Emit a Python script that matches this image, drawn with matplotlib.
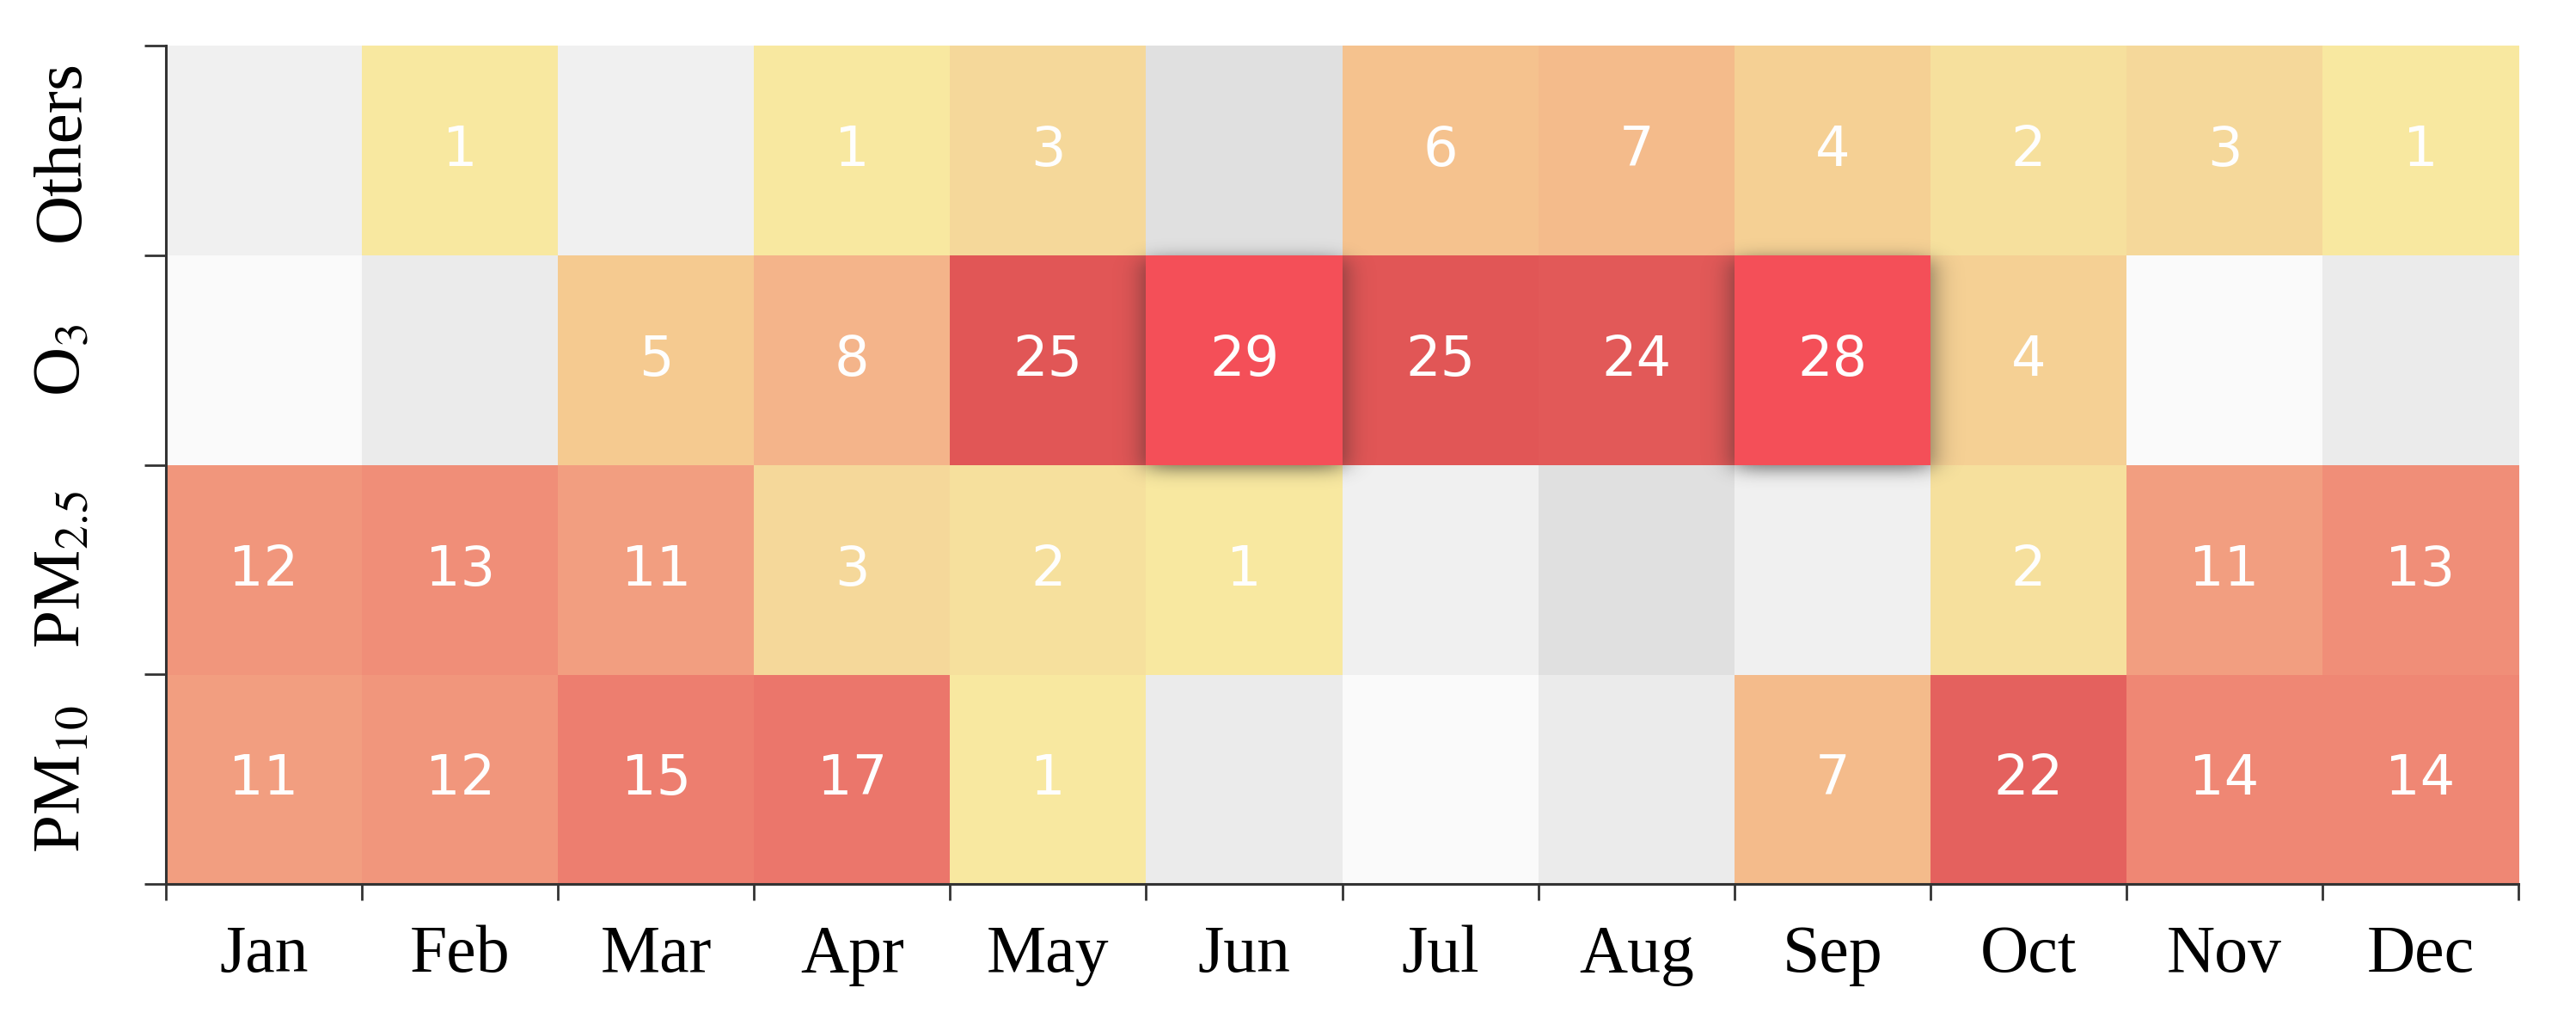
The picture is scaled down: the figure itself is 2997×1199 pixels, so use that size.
import math
import numpy as np
import matplotlib
matplotlib.use("Agg")
import matplotlib.pyplot as plt
import matplotlib.transforms as mtransforms
from matplotlib.colors import LinearSegmentedColormap, Normalize, to_rgb
from matplotlib.patches import Rectangle

plt.rcParams['mathtext.fontset'] = 'stix'

months = ["Jan", "Feb", "Mar", "Apr", "May", "Jun",
          "Jul", "Aug", "Sep", "Oct", "Nov", "Dec"]
# rows from bottom to top
pollutants = ["PM$_{10}$", "PM$_{2.5}$", "O$_3$", "Others"]

pm10 = [11, 12, 15, 17, 1, 0, 0, 0, 7, 22, 14, 14]
pm25 = [12, 13, 11, 3, 2, 1, 0, 0, 0, 2, 11, 13]
o3 = [0, 0, 5, 8, 25, 29, 25, 24, 28, 4, 0, 0]
others = [0, 1, 0, 1, 3, 0, 6, 7, 4, 2, 3, 1]

days = np.array([pm10, pm25, o3, others])

# grey shades of the empty cells (row, col)
empty_shade = {
    (0, 5): "#ebebeb", (0, 6): "#fafafa", (0, 7): "#ebebeb",
    (1, 6): "#f0f0f0", (1, 7): "#e0e0e0", (1, 8): "#f0f0f0",
    (2, 0): "#fafafa", (2, 1): "#ebebeb", (2, 10): "#fafafa", (2, 11): "#ebebeb",
    (3, 0): "#f0f0f0", (3, 2): "#f0f0f0", (3, 5): "#e0e0e0",
}
# cells drawn raised with a shadow
raised = [(2, 5), (2, 8)]
raised_color = "#f44f58"

anchors = [(1, "#f8e8a0"), (3, "#f5d89a"), (5, "#f6ca90"), (8, "#f4b48a"),
           (12, "#f2977d"), (15, "#ee7f70"), (22, "#e5625f"), (25, "#e15656")]
vmin, vmax = 1, 25
cmap = LinearSegmentedColormap.from_list(
    "heat", [((v - vmin) / (vmax - vmin), c) for v, c in anchors])
norm = Normalize(vmin, vmax, clip=True)

nrow, ncol = days.shape
rgb = np.zeros((nrow, ncol, 3))
for r in range(nrow):
    for c in range(ncol):
        v = days[r, c]
        if v == 0:
            rgb[r, c] = to_rgb(empty_shade.get((r, c), "#f0f0f0"))
        else:
            rgb[r, c] = cmap(norm(v))[:3]

fig = plt.figure(figsize=(29.97, 11.99), dpi=100)
ax = fig.add_axes([0.0644, 0.1426, 0.9133, 0.8128])

ax.imshow(rgb, origin="lower", extent=[0, ncol, 0, nrow],
          aspect="auto", interpolation="nearest", zorder=1)

# soft shadow under the raised cells
res = 100
xs = (np.arange(ncol * res) + 0.5) / res
ys = (np.arange(nrow * res) + 0.5) / res
erf = np.vectorize(math.erf)
sx, sy = 0.07, 0.04


def blur1d(t, a, b, s):
    return 0.5 * (erf((t - a) / (s * math.sqrt(2))) - erf((t - b) / (s * math.sqrt(2))))


shade = np.zeros((len(ys), len(xs)))
for r, c in raised:
    shade += np.outer(blur1d(ys, r - 0.02, r + 1 - 0.02, sy),
                      blur1d(xs, c, c + 1, sx))
shadow = np.zeros((len(ys), len(xs), 4))
shadow[..., :3] = 0.15
shadow[..., 3] = np.clip(shade, 0, 1) * 0.65
ax.imshow(shadow, origin="lower", extent=[0, ncol, 0, nrow],
          aspect="auto", interpolation="bilinear", zorder=2)

for r, c in raised:
    ax.add_patch(Rectangle((c, r), 1, 1, facecolor=raised_color,
                           edgecolor="none", zorder=3))

for r in range(nrow):
    for c in range(ncol):
        v = days[r, c]
        if v > 0:
            ax.text(c + 0.5, r + 0.5, str(v), ha="center", va="center",
                    color="#fefefe", fontsize=46, family="DejaVu Sans", zorder=4)

ax.set_xlim(0, ncol)
ax.set_ylim(0, nrow)
for s in ["top", "right"]:
    ax.spines[s].set_visible(False)
for s in ["left", "bottom"]:
    ax.spines[s].set_color("#333333")
    ax.spines[s].set_linewidth(2.2)
    ax.spines[s].set_zorder(5)

ax.set_xticks(np.arange(ncol + 1))
ax.set_xticklabels([])
ax.set_yticks(np.arange(nrow + 1))
ax.set_yticklabels([])
ax.tick_params(axis="x", which="major", length=14, width=2, color="#333333")
ax.tick_params(axis="y", which="major", length=18, width=2, color="#333333")

ax.set_xticks(np.arange(ncol) + 0.5, minor=True)
ax.set_xticklabels(months, minor=True, family="Liberation Serif", fontsize=56)
ax.tick_params(axis="x", which="minor", length=0, pad=34)

trans = mtransforms.blended_transform_factory(ax.transAxes, ax.transData)
for r, name in enumerate(pollutants):
    ax.text(-0.037, r + 0.5, name, transform=trans, rotation=90,
            rotation_mode="anchor", ha="center", va="baseline",
            family="Liberation Serif", fontsize=57)

fig.savefig("out.png", dpi=100, facecolor="white")
